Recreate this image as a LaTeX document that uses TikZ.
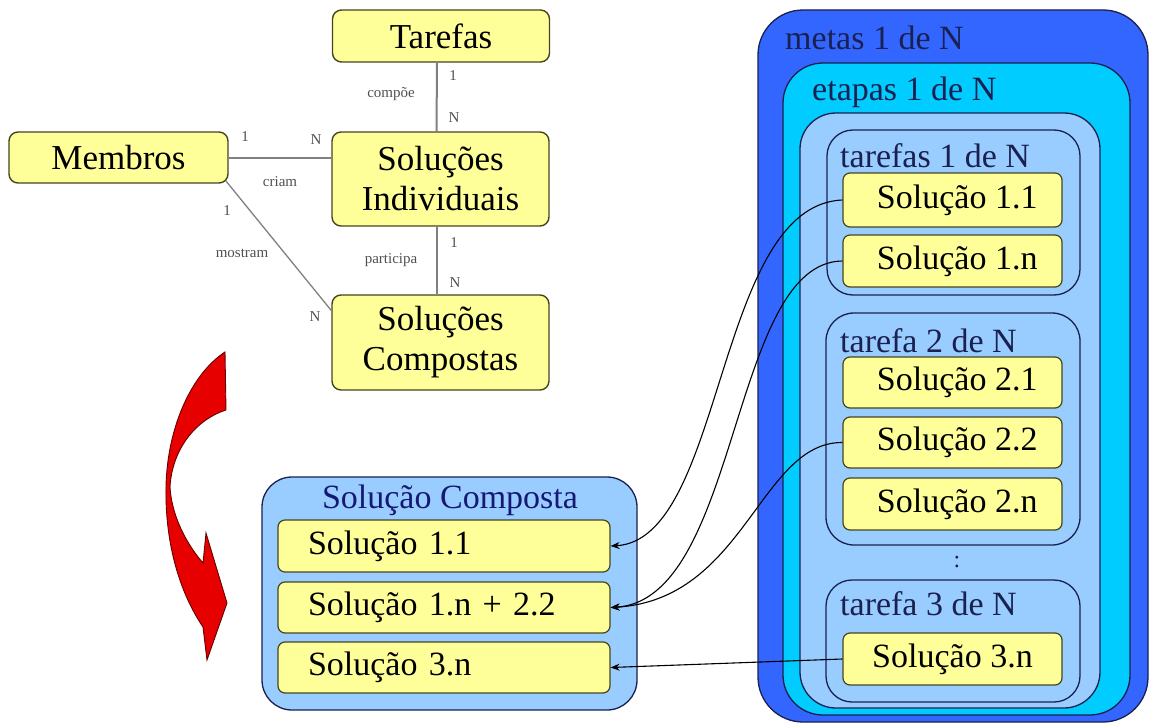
\documentclass[tikz,border=0pt]{standalone}
\usepackage{fontspec}
\setmainfont{Liberation Serif}
\usetikzlibrary{arrows.meta,calc}
\definecolor{ylw}{HTML}{FFFF99}
\definecolor{ylwline}{HTML}{45451E}
\definecolor{navy}{HTML}{1A2050}
\definecolor{deepblue}{HTML}{3366FF}
\definecolor{cyanblue}{HTML}{00CCFF}
\definecolor{paleblue}{HTML}{99CCFF}
\definecolor{arrowred}{HTML}{E60000}
\definecolor{relgray}{HTML}{808080}
\definecolor{labelgray}{HTML}{505050}

\begin{document}
\begin{tikzpicture}[x=1pt,y=-1pt,
  erbox/.style={draw=ylwline, fill=ylw, line width=1.4pt, rounded corners=9pt,
    font=\fontsize{35}{40}\selectfont, align=center, inner sep=0pt, minimum width=217pt},
  solbox/.style={draw=ylwline, fill=ylw, line width=1.2pt, rounded corners=7pt,
    font=\fontsize{34}{38}\selectfont, inner sep=0pt, minimum width=219pt},
  compbox/.style={draw=ylwline, fill=ylw, line width=1.2pt, rounded corners=7pt,
    font=\fontsize{34}{38}\selectfont, inner ysep=0pt, inner xsep=30pt,
    text width=272pt, align=left},
  container/.style={draw=navy, line width=1.3pt},
  title/.style={font=\fontsize{34}{38}\selectfont, text=navy, anchor=base west, inner sep=0pt},
  rel/.style={draw=relgray, line width=2pt},
  card/.style={font=\fontsize{15}{17}\selectfont, text=labelgray, inner sep=0pt},
  link/.style={draw=black, line width=1.1pt, -{Stealth[length=9pt,width=7pt]}}
]
\useasboundingbox (0,0) rectangle (1149,725);

% ---------- entity–relationship part ----------
\node[erbox, minimum height=52pt] (tar) at (441,36) {Tarefas};
\node[erbox, minimum height=94pt] (si) at (440.5,179) {Soluções\\Individuais};
\node[erbox, minimum height=95pt] (sc) at (440.5,342.5) {Soluções\\Compostas};
\node[erbox, minimum width=219pt, minimum height=51pt] (mem) at (118.5,157.5) {Membros};

\draw[rel] ([xshift=-4pt]tar.south) -- ([xshift=-4pt]si.north);
\draw[rel] (mem.east) -- (mem.east -| si.west);
\draw[rel] ([xshift=-4pt]si.south) -- ([xshift=-4pt]sc.north);
\draw[draw=relgray, line width=1.3pt] ([xshift=-3pt,yshift=3pt]mem.south east) -- ([yshift=32pt]sc.west);

\node[card] (c1) at (453,76) {1};
\node[card] (c2) at (391,94) {compõe};
\node[card] (c3) at (454,118) {N};
\node[card] (c4) at (245,137) {1};
\node[card] (c5) at (316,140) {N};
\node[card] (c6) at (280,182) {criam};
\node[card] (c7) at (454,243) {1};
\node[card] (c8) at (391,260) {participa};
\node[card] (c9) at (455,283) {N};
\node[card] (c10) at (227,211) {1};
\node[card] (c11) at (242,253) {mostram};
\node[card] (c12) at (315,317) {N};

% ---------- curved red arrow ----------
\draw[fill=arrowred, draw=black!60!red, line width=0.9pt]
  (225,352) -- (226,410)
  .. controls (195,420) and (172,450) .. (170,487)
  .. controls (172,520) and (190,548) .. (203,563)
  -- (206,533) -- (227,603) -- (207,660) -- (203,627)
  .. controls (178,590) and (165,540) .. (166,487)
  .. controls (167,430) and (190,375) .. (225,352) -- cycle;

% ---------- nested goals / stages / tasks ----------
\draw[container, fill=deepblue, rounded corners=45pt] (758,10) rectangle (1148,722);
\node[title] (metas) at (785,50) {metas 1 de N};
\draw[container, fill=cyanblue, rounded corners=40pt] (783,63) rectangle (1130,715);
\node[title] (etapas) at (812,100) {etapas 1 de N};
\draw[container, fill=paleblue, rounded corners=36pt] (800,113) rectangle (1100,708);

\draw[container, rounded corners=26pt] (827,130) rectangle (1080,295);
\node[title] (t1) at (840,167) {tarefas 1 de N};
\node[solbox, minimum height=54pt] (s11) at (952.5,200) {\;Solução 1.1};
\node[solbox, minimum height=52pt] (s1n) at (952.5,261) {\;Solução 1.n};

\draw[container, rounded corners=28pt] (826,313) rectangle (1080,545);
\node[title] (t2) at (840,352) {tarefa 2 de N};
\node[solbox, minimum height=51pt] (s21) at (952.5,382.5) {\;Solução 2.1};
\node[solbox, minimum height=51pt] (s22) at (952.5,442.5) {\;Solução 2.2};
\node[solbox, minimum height=52pt] (s2n) at (952.5,504) {\;Solução 2.n};

\node[font=\fontsize{24}{26}\selectfont, text=navy, inner sep=0pt] (dots) at (957,562) {:};

\draw[container, rounded corners=26pt] (826,580) rectangle (1080,702);
\node[title] (t3) at (840,615) {tarefa 3 de N};
\node[solbox, minimum height=52pt] (s3n) at (952.5,659) {Solução 3.n};

% ---------- composed solution ----------
\draw[container, fill=paleblue, rounded corners=30pt] (262,477) rectangle (637,710);
\node[font=\fontsize{34}{38}\selectfont, text=navy!80!blue, anchor=base, inner sep=0pt] (comp) at (450,508) {Solução Composta};
\node[compbox, minimum height=52pt] (c11) at (444,546) {Solução 1.1};
\node[compbox, minimum height=51pt] (c12) at (444,607.5) {Solução 1.n + 2.2};
\node[compbox, minimum height=51pt] (c3n) at (444,667.5) {Solução 3.n};

% ---------- links from task solutions to the composed one ----------
\draw[link] (s11.west) .. controls (715,205) and (725,540) .. (c11.east);
\draw[link] (s1n.west) .. controls (730,262) and (740,600) .. (c12.east);
\draw[link] (s22.west) .. controls (760,442) and (745,600) .. (c12.east);
\draw[link] (s3n.west) -- (c3n.east);
\end{tikzpicture}
\end{document}
